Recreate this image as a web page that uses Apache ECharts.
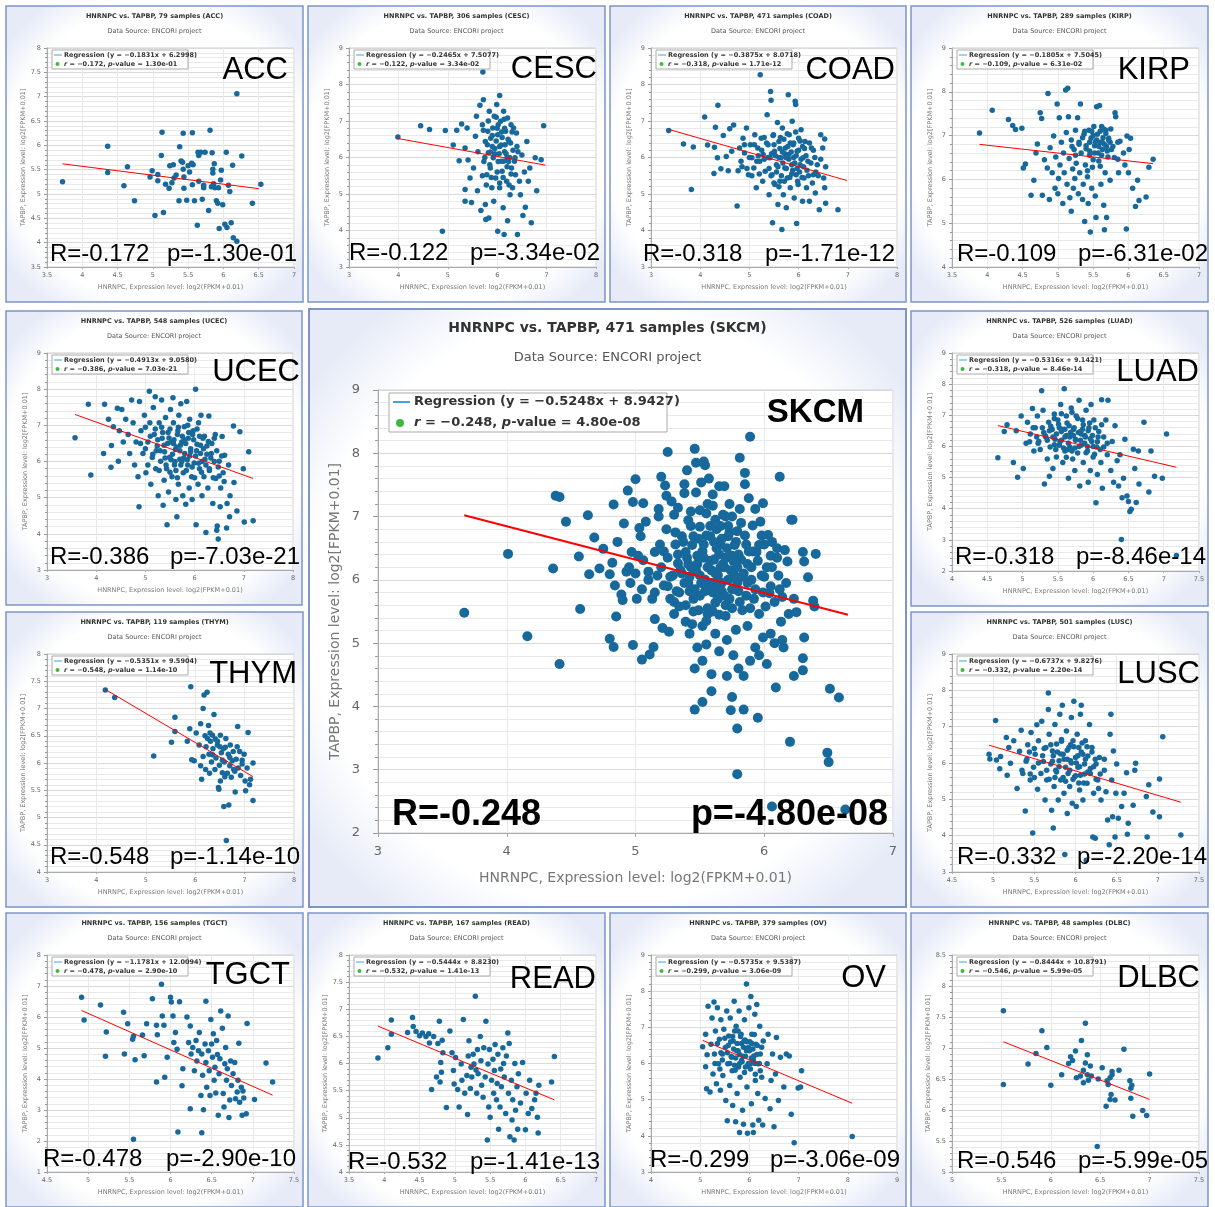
<!DOCTYPE html>
<html>
<head>
<meta charset="utf-8">
<title>HNRNPC vs. TAPBP</title>
<script src="https://cdn.jsdelivr.net/npm/echarts@6/dist/echarts.min.js"></script>
<style>html,body{margin:0;padding:0;background:#fff;}</style>
</head>
<body>
<div id="main" style="width:1215px;height:1207px;"></div>
<script type="text/javascript">
// ---- data ----
var cancers = ['ACC', 'CESC', 'COAD', 'KIRP', 'UCEC', 'SKCM', 'LUAD', 'THYM', 'LUSC', 'TGCT', 'READ', 'OV', 'DLBC'];
var samples = [79, 306, 471, 289, 548, 471, 526, 119, 501, 156, 167, 379, 48];
var equations = ['−0.1831x + 6.2998', '−0.2465x + 7.5077', '−0.3875x + 8.0718', '−0.1805x + 7.5045', '−0.4913x + 9.0580', '−0.5248x + 8.9427',
  '−0.5316x + 9.1421', '−0.5351x + 9.5904', '−0.6737x + 9.8276', '−1.1781x + 12.0094', '−0.5444x + 8.8230', '−0.5735x + 9.5387', '−0.8444x + 10.8791'];
var rValues = ['-0.172', '-0.122', '-0.318', '-0.109', '-0.386', '-0.248', '-0.318', '-0.548', '-0.332', '-0.478', '-0.532', '-0.299', '-0.546'];
var pValues = ['1.30e-01', '3.34e-02', '1.71e-12', '6.31e-02', '7.03e-21', '4.80e-08', '8.46e-14', '1.14e-10', '2.20e-14', '2.90e-10', '1.41e-13', '3.06e-09', '5.99e-05'];
// axis ticks: [min, max, interval]
var xTicks = [[3.5, 7, 0.5], [3, 8, 1], [3, 8, 1], [3.5, 7, 0.5], [3, 8, 1], [3, 7, 1], [4, 7.5, 0.5], [3, 8, 1], [4.5, 7.5, 0.5], [4.5, 7.5, 0.5], [3.5, 7, 0.5], [4, 9, 1], [5, 7.5, 0.5]];
var yTicks = [[3.5, 8, 0.5], [3, 9, 1], [3, 9, 1], [4, 9, 1], [3, 9, 1], [2, 9, 1], [2, 9, 1], [4, 8, 0.5], [3, 9, 1], [1, 8, 1], [4, 8, 0.5], [3, 9, 1], [5, 8.5, 0.5]];
var xName = 'HNRNPC, Expression level: log2(FPKM+0.01)';
var yName = 'TAPBP, Expression level: log2[FPKM+0.01]';

// regression line end points
var accFit = [[3.72, 5.62], [6.50, 5.11]];
var cescFit = [[3.99, 6.52], [6.98, 5.79]];
var coadFit = [[3.36, 6.77], [6.98, 5.37]];
var kirpFit = [[3.89, 6.80], [6.35, 6.36]];
var ucecFit = [[3.57, 7.30], [7.19, 5.53]];
var skcmFit = [[3.67, 7.02], [6.65, 5.45]];
var luadFit = [[4.65, 6.67], [7.18, 5.33]];
var thymFit = [[4.18, 7.35], [7.17, 5.75]];
var luscFit = [[4.95, 6.49], [7.28, 4.92]];
var tgctFit = [[4.92, 6.21], [7.24, 3.48]];
var readFit = [[3.91, 6.69], [6.41, 5.33]];
var ovFit = [[5.05, 6.64], [8.09, 4.90]];
var dlbcFit = [[5.52, 7.10], [7.00, 6.17]];

// samples [HNRNPC, TAPBP]
var accPts = [[3.72,5.25],[4.36,5.98],[4.36,5.44],[4.59,5.17],[4.64,5.56],[4.74,4.86],[4.96,5.35],[4.99,5.48],[5.03,4.56],[5.07,5.40],[5.07,5.27],[5.13,6.27],[5.12,5.79],[5.15,4.62],[5.18,5.20],[5.23,5.12],[5.24,5.58],[5.29,5.60],[5.27,5.23],[5.30,5.33],[5.33,5.39],[5.37,4.86],[5.38,5.97],[5.40,5.68],[5.42,5.65],[5.43,6.25],[5.43,5.51],[5.44,5.35],[5.44,5.12],[5.48,4.87],[5.50,5.58],[5.52,5.45],[5.55,5.63],[5.56,6.26],[5.56,5.19],[5.57,5.60],[5.59,4.86],[5.63,4.36],[5.64,5.86],[5.65,5.79],[5.65,5.26],[5.68,5.86],[5.70,4.89],[5.72,5.18],[5.72,5.13],[5.74,5.86],[5.79,4.66],[5.81,6.31],[5.84,5.85],[5.83,5.15],[5.85,5.51],[5.85,5.43],[5.87,5.62],[5.86,5.21],[5.88,5.13],[5.90,4.86],[5.92,4.81],[5.93,5.13],[5.94,4.29],[5.96,5.29],[5.97,5.49],[5.99,4.78],[6.02,4.38],[6.04,5.86],[6.05,4.31],[6.07,5.18],[6.09,5.05],[6.11,4.41],[6.13,5.59],[6.14,4.10],[6.19,7.06],[6.19,4.03],[6.26,5.78],[6.41,4.81],[6.53,5.20]];
var cescPts = [[3.99,6.56],[4.45,6.87],[4.63,6.77],[4.89,3.98],[4.95,6.74],[5.11,6.34],[5.18,6.75],[5.23,5.91],[5.28,6.92],[5.35,6.26],[5.35,5.12],[5.35,4.80],[5.39,6.81],[5.41,5.93],[5.45,5.44],[5.48,4.77],[5.52,5.71],[5.56,6.58],[5.58,7.13],[5.60,5.09],[5.61,6.16],[5.65,7.43],[5.67,4.55],[5.70,6.90],[5.71,8.34],[5.72,7.58],[5.73,5.89],[5.76,4.71],[5.76,6.44],[5.77,4.30],[5.79,5.53],[5.81,6.72],[5.82,6.13],[5.83,4.34],[5.84,7.27],[5.86,5.71],[5.87,6.53],[5.89,5.17],[5.91,6.81],[5.92,5.99],[5.93,4.80],[5.94,7.13],[5.95,6.25],[5.97,5.44],[5.99,7.45],[6.01,3.98],[6.01,6.62],[6.02,5.89],[6.05,7.70],[6.05,5.17],[6.07,6.99],[6.08,6.34],[6.10,5.62],[6.12,4.62],[6.13,7.27],[6.14,3.89],[6.15,6.16],[6.17,6.72],[6.19,5.35],[6.21,4.27],[6.21,7.08],[6.23,5.89],[6.24,6.44],[6.26,4.98],[6.28,6.90],[6.29,5.71],[6.31,5.17],[6.33,6.81],[6.36,5.99],[6.37,5.53],[6.39,6.67],[6.41,3.89],[6.42,6.16],[6.45,5.35],[6.47,4.98],[6.50,6.07],[6.52,4.41],[6.55,5.60],[6.57,4.64],[6.60,6.44],[6.63,5.35],[6.66,5.71],[6.69,4.21],[6.77,5.99],[6.80,5.09],[6.89,5.94],[6.94,6.87],
  [5.75,6.00],[5.80,6.35],[5.85,5.80],[5.90,6.60],[5.95,6.10],[6.00,5.60],[6.02,6.90],[6.05,6.30],[6.08,5.90],[6.10,6.55],[6.12,5.45],[6.15,6.80],[6.18,6.10],[6.20,5.75],[6.22,6.50],[6.25,6.00],[6.28,5.55],[6.30,6.70],[6.32,6.20],[6.35,5.90],[5.70,5.50],[5.72,6.75],[5.78,5.25],[5.82,7.00],[5.88,5.45],[5.98,7.10],[6.05,5.30],[6.14,7.05],[6.24,5.25],[6.40,6.30],
  [5.90,6.30],[5.98,6.45],[6.04,6.10],[6.09,6.70],[6.16,6.35],[6.20,6.00],[6.27,6.40],[5.86,6.15],[6.00,6.80],[6.13,5.90]];
var coadPts = [[3.36,6.74],[3.66,6.37],[3.82,5.12],[3.86,6.29],[4.09,7.11],[4.15,6.34],[4.28,5.56],[4.29,6.28],[4.31,6.83],[4.35,5.99],[4.36,7.43],[4.42,5.69],[4.47,6.60],[4.53,6.03],[4.57,5.64],[4.60,6.79],[4.64,6.17],[4.68,6.89],[4.75,4.67],[4.77,5.64],[4.80,6.26],[4.83,5.90],[4.87,6.53],[4.90,6.12],[4.94,6.81],[4.98,5.53],[5.02,6.35],[5.05,5.99],[5.09,5.71],[5.11,6.62],[5.14,5.17],[5.17,6.26],[5.21,5.90],[5.22,8.27],[5.24,6.53],[5.27,5.35],[5.28,6.08],[5.32,5.62],[5.36,7.17],[5.38,6.35],[5.40,4.98],[5.42,5.99],[5.43,7.81],[5.44,7.57],[5.46,5.53],[5.47,4.21],[5.49,6.62],[5.51,6.17],[5.52,5.26],[5.55,5.80],[5.57,6.96],[5.58,4.71],[5.60,6.44],[5.62,5.35],[5.64,5.99],[5.66,4.03],[5.67,6.81],[5.69,4.98],[5.72,5.71],[5.73,6.26],[5.75,4.62],[5.77,5.44],[5.79,7.72],[5.80,6.08],[5.81,6.62],[5.83,5.17],[5.86,5.80],[5.87,6.99],[5.89,6.35],[5.91,4.89],[5.93,7.54],[5.94,7.45],[5.95,5.53],[5.96,4.19],[5.97,6.17],[5.99,5.26],[6.00,6.53],[6.03,5.80],[6.05,6.76],[6.08,4.80],[6.09,5.99],[6.11,5.44],[6.13,6.44],[6.16,5.17],[6.19,5.90],[6.22,4.80],[6.26,6.26],[6.30,5.53],[6.34,5.03],[6.38,5.80],[6.42,4.57],[6.45,6.62],[6.49,6.26],[6.51,5.44],[6.53,5.17],[6.53,6.51],[6.55,4.75],[6.80,4.57],
  [5.25,6.20],[5.30,5.95],[5.35,6.40],[5.40,5.70],[5.45,6.10],[5.50,6.35],[5.55,5.60],[5.60,6.00],[5.62,6.25],[5.65,5.50],[5.68,5.85],[5.70,6.50],[5.72,6.10],[5.75,5.70],[5.78,6.30],[5.80,5.95],[5.82,5.45],[5.85,6.15],[5.88,5.65],[5.90,6.40],[5.92,5.85],[5.95,6.05],[5.98,5.35],[6.00,6.20],[6.02,5.60],[6.05,5.95],[6.08,6.30],[6.10,5.75],[6.15,6.05],[6.20,5.50],[6.25,5.85],[5.50,5.30],[5.60,5.20],[5.15,5.90],[5.10,6.35],[5.00,6.00],[4.95,5.70],[5.20,5.55],[6.30,6.20],[6.35,5.60],
  [5.30,6.55],[5.38,6.00],[5.44,5.50],[5.48,6.60],[5.53,6.05],[5.58,5.75],[5.63,6.55],[5.67,6.15],[5.71,5.35],[5.74,6.00],[5.77,6.65],[5.83,6.40],[5.86,5.55],[5.90,6.00],[5.94,6.70],[5.97,5.70],[6.03,6.45],[6.07,5.45],[6.12,6.25],[6.17,5.65],[6.22,6.40],[6.28,5.30],[6.33,6.00],[6.40,5.50],[5.18,6.05],[5.05,5.50],[4.90,6.35],[4.85,5.75],[6.45,5.95],[6.55,5.75]];
var kirpPts = [[3.89,7.06],[4.07,7.58],[4.30,7.37],[4.36,7.23],[4.40,7.14],[4.49,7.17],[4.51,6.26],[4.54,6.35],[4.62,5.64],[4.66,5.98],[4.69,6.60],[4.71,6.81],[4.75,7.52],[4.77,7.39],[4.78,5.64],[4.81,6.45],[4.85,6.26],[4.86,7.96],[4.88,5.54],[4.89,6.72],[4.92,6.15],[4.94,6.99],[4.96,5.80],[4.97,6.51],[4.99,7.72],[5.00,5.67],[5.01,6.02],[5.02,7.41],[5.03,6.33],[5.05,6.85],[5.07,5.45],[5.08,6.60],[5.09,6.15],[5.11,8.04],[5.12,7.07],[5.13,5.89],[5.14,8.08],[5.15,7.43],[5.16,6.48],[5.17,5.58],[5.19,6.90],[5.19,5.27],[5.21,6.24],[5.22,5.80],[5.23,6.68],[5.24,6.02],[5.25,7.12],[5.26,6.37],[5.28,7.41],[5.29,5.67],[5.30,6.85],[5.31,6.15],[5.32,7.72],[5.33,6.60],[5.35,5.54],[5.36,5.89],[5.37,7.03],[5.38,5.04],[5.39,6.33],[5.40,6.77],[5.42,6.06],[5.43,5.45],[5.44,7.12],[5.45,6.55],[5.46,4.80],[5.47,6.94],[5.48,5.80],[5.49,6.28],[5.51,7.21],[5.52,6.77],[5.53,5.62],[5.54,5.13],[5.55,7.66],[5.56,7.03],[5.58,6.42],[5.59,7.69],[5.60,6.85],[5.61,5.89],[5.62,7.21],[5.63,6.68],[5.65,5.41],[5.66,4.85],[5.67,6.15],[5.68,7.12],[5.69,5.13],[5.71,6.51],[5.72,6.94],[5.74,5.98],[5.76,6.68],[5.81,7.52],[5.82,7.43],[5.85,6.46],[5.86,6.15],[5.88,6.87],[5.93,6.60],[5.95,6.33],[5.97,4.87],[5.98,6.99],[6.00,6.15],[6.01,6.68],[6.03,6.94],[6.06,5.80],[6.10,5.38],[6.13,5.98],[6.15,5.52],[6.25,5.60],[6.29,6.28],[6.35,6.46],
  [5.30,6.80],[5.35,6.95],[5.40,6.70],[5.45,6.85],[5.50,7.00],[5.52,6.60],[5.55,6.90],[5.58,6.75],[5.60,7.10],[5.62,6.55],[5.64,6.95],[5.66,6.80],[5.68,7.05],[5.70,6.65],[5.72,6.90],[5.75,7.15],[5.78,6.75],[5.80,6.50],[5.50,6.45],[5.42,6.20],[5.25,6.55],[5.20,6.75],[5.60,6.30],[5.85,6.85],[5.38,7.10],
  [5.45,6.65],[5.53,6.85],[5.57,6.60],[5.63,6.85],[5.69,6.75],[5.74,6.85],[5.48,7.10],[5.65,7.15]];
var ucecPts = [[3.57,6.66],[3.84,7.58],[3.89,5.63],[4.15,6.22],[4.17,7.58],[4.25,7.17],[4.30,5.84],[4.31,6.44],[4.35,6.96],[4.43,7.47],[4.45,6.01],[4.47,6.85],[4.52,7.44],[4.55,6.54],[4.60,7.17],[4.65,6.75],[4.68,6.22],[4.72,7.70],[4.75,7.07],[4.78,5.90],[4.81,6.54],[4.85,5.58],[4.87,4.75],[4.88,7.66],[4.91,6.85],[4.95,6.22],[4.98,7.28],[5.01,5.69],[5.05,6.54],[5.08,7.94],[5.09,7.07],[5.11,5.37],[5.14,6.11],[5.16,7.49],[5.18,6.75],[5.20,7.79],[5.21,5.80],[5.24,6.43],[5.26,5.05],[5.28,7.07],[5.31,6.01],[5.33,7.70],[5.34,6.64],[5.36,4.79],[5.38,5.48],[5.39,6.27],[5.41,7.22],[5.43,5.80],[5.44,4.25],[5.46,6.80],[5.47,5.16],[5.49,6.11],[5.51,7.44],[5.53,6.54],[5.54,5.58],[5.56,7.76],[5.57,7.07],[5.59,5.90],[5.61,6.33],[5.62,4.95],[5.64,4.47],[5.65,6.75],[5.67,5.37],[5.68,7.28],[5.70,6.06],[5.72,7.60],[5.74,6.54],[5.76,5.05],[5.77,5.69],[5.79,6.96],[5.80,6.22],[5.82,4.82],[5.84,7.66],[5.86,5.90],[5.87,6.64],[5.89,5.27],[5.90,7.17],[5.92,6.27],[5.94,5.58],[5.95,4.95],[5.97,6.85],[5.99,5.96],[6.02,8.00],[6.03,4.25],[6.05,6.48],[6.07,5.37],[6.08,7.07],[6.10,5.80],[6.12,6.22],[6.13,7.28],[6.15,5.05],[6.17,6.64],[6.19,5.58],[6.21,6.06],[6.23,4.04],[6.25,6.43],[6.27,5.27],[6.29,7.26],[6.30,5.80],[6.34,6.22],[6.37,4.84],[6.40,6.64],[6.43,5.53],[6.45,4.10],[6.46,4.22],[6.48,3.86],[6.50,6.01],[6.52,4.75],[6.53,5.27],[6.56,6.69],[6.58,5.69],[6.61,6.17],[6.65,4.16],[6.66,4.84],[6.69,5.90],[6.71,4.47],[6.72,5.05],[6.79,6.98],[6.80,5.42],[6.86,4.63],[6.92,6.82],[6.99,5.80],[7.01,4.33],[7.10,6.27],[7.19,4.36],
  [5.25,6.60],[5.30,6.30],[5.35,6.80],[5.40,6.10],[5.45,6.50],[5.50,6.90],[5.55,6.20],[5.58,6.60],[5.60,6.00],[5.63,6.40],[5.66,6.85],[5.70,6.30],[5.72,5.90],[5.75,6.70],[5.78,6.10],[5.82,6.50],[5.85,6.05],[5.88,6.80],[5.92,6.35],[5.95,5.85],[5.98,6.60],[6.02,6.15],[6.05,6.90],[6.08,5.95],[6.12,6.45],[6.15,6.00],[6.20,6.70],[6.25,6.20],[6.30,5.75],[5.20,6.90],[5.15,6.20],[5.10,6.70],[5.05,5.90],[5.00,6.35],[6.35,6.50],[6.40,6.00],[6.45,6.30],[6.50,5.60],[5.50,5.70],[5.65,5.55],
  [5.22,6.30],[5.28,5.75],[5.33,6.95],[5.38,6.45],[5.42,5.90],[5.48,6.65],[5.52,6.05],[5.57,6.50],[5.62,5.75],[5.67,6.95],[5.71,6.45],[5.74,6.00],[5.79,6.60],[5.83,5.75],[5.86,7.00],[5.90,6.15],[5.96,6.75],[6.00,5.55],[6.04,6.30],[6.10,6.70],[6.14,5.70],[6.18,6.35],[6.23,5.90],[6.28,6.55],[6.33,6.10],[6.38,5.55],[6.42,6.75],[6.48,5.85],[5.00,6.95],[4.90,6.50],[6.55,6.15],[6.60,5.45]];
var skcmPts = [[3.67,5.48],[4.01,6.41],[4.16,5.11],[4.36,6.18],[4.38,7.33],[4.41,7.31],[4.41,4.67],[4.46,6.92],[4.56,6.37],[4.57,5.54],[4.63,7.02],[4.64,6.09],[4.68,6.67],[4.72,6.18],[4.75,6.49],[4.80,6.09],[4.80,5.07],[4.82,6.27],[4.83,7.19],[4.83,4.94],[4.84,5.91],[4.85,5.42],[4.86,6.60],[4.89,5.77],[4.90,5.68],[4.91,6.89],[4.93,6.13],[4.94,7.41],[4.96,5.95],[4.97,6.44],[4.98,4.97],[4.98,7.23],[5.00,7.59],[5.01,5.70],[5.02,6.38],[5.03,6.82],[5.04,6.69],[5.05,4.74],[5.06,7.21],[5.06,6.31],[5.08,6.92],[5.10,6.13],[5.11,4.82],[5.13,5.70],[5.14,4.94],[5.15,6.44],[5.15,5.38],[5.17,6.07],[5.18,7.12],[5.18,7.00],[5.19,6.56],[5.20,7.63],[5.21,5.24],[5.22,5.91],[5.23,7.49],[5.24,6.80],[5.24,7.33],[5.25,8.02],[5.25,6.35],[5.26,5.18],[5.27,5.70],[5.28,7.24],[5.29,6.07],[5.30,7.03],[5.30,5.46],[5.31,6.56],[5.32,5.82],[5.33,7.14],[5.33,6.26],[5.34,5.58],[5.36,6.69],[5.36,6.10],[5.38,7.51],[5.38,7.37],[5.39,6.44],[5.39,5.34],[5.40,7.73],[5.41,6.94],[5.41,5.95],[5.42,5.15],[5.42,5.82],[5.43,7.08],[5.43,6.20],[5.45,6.69],[5.45,5.70],[5.46,4.60],[5.46,3.95],[5.46,8.07],[5.47,7.85],[5.47,7.38],[5.48,6.38],[5.48,4.93],[5.49,5.52],[5.50,6.84],[5.50,6.07],[5.51,7.54],[5.52,5.27],[5.52,4.07],[5.52,4.72],[5.53,7.87],[5.53,6.56],[5.54,5.82],[5.54,7.81],[5.55,7.05],[5.55,4.98],[5.56,6.20],[5.56,5.46],[5.57,7.60],[5.58,6.69],[5.58,5.95],[5.59,4.24],[5.59,4.51],[5.60,7.17],[5.61,6.32],[5.62,5.64],[5.62,5.15],[5.63,6.80],[5.64,6.07],[5.65,4.87],[5.65,7.48],[5.66,6.56],[5.67,5.82],[5.68,7.03],[5.69,7.48],[5.69,6.20],[5.70,5.43],[5.71,4.48],[5.71,5.05],[5.72,6.69],[5.73,5.70],[5.74,3.94],[5.75,4.15],[5.75,7.00],[5.75,6.38],[5.76,4.81],[5.77,6.07],[5.78,5.21],[5.79,6.77],[5.79,2.93],[5.79,3.65],[5.80,5.82],[5.80,4.60],[5.81,7.12],[5.81,7.93],[5.82,6.32],[5.83,5.52],[5.84,4.48],[5.84,3.95],[5.85,7.69],[5.85,7.51],[5.86,6.56],[5.87,5.95],[5.87,5.27],[5.88,7.29],[5.89,4.72],[5.89,8.26],[5.90,6.20],[5.91,6.86],[5.92,5.70],[5.93,4.93],[5.93,7.12],[5.94,6.44],[5.95,3.82],[5.96,5.46],[5.96,4.81],[5.97,6.92],[5.98,6.07],[5.99,7.21],[5.99,5.09],[6.00,6.56],[6.01,5.58],[6.02,4.67],[6.03,6.71],[6.04,5.79],[6.05,6.38],[6.05,5.15],[6.06,6.20],[6.08,5.00],[6.09,4.30],[6.10,6.35],[6.11,6.07],[6.12,7.63],[6.13,5.34],[6.14,5.73],[6.14,5.05],[6.15,4.93],[6.16,6.47],[6.17,5.95],[6.18,6.29],[6.19,5.46],[6.20,3.44],[6.21,6.95],[6.22,6.95],[6.23,4.48],[6.23,5.70],[6.25,5.49],[6.30,6.44],[6.31,5.09],[6.30,4.76],[6.30,4.57],[6.31,6.29],[6.34,6.04],[6.38,5.67],[6.39,5.58],[6.40,6.41],[6.51,4.28],[6.49,3.27],[6.50,3.12],[6.58,4.14],[6.63,2.37],[6.06,2.42],
  [5.35,6.15],[5.38,5.95],[5.40,6.35],[5.42,6.05],[5.44,6.55],[5.46,5.85],[5.48,6.25],[5.50,5.75],[5.52,6.45],[5.54,6.00],[5.55,6.70],[5.57,5.90],[5.58,6.30],[5.60,5.80],[5.61,6.60],[5.62,6.10],[5.64,5.70],[5.65,6.40],[5.66,6.85],[5.67,5.95],[5.68,6.25],[5.70,5.60],[5.71,6.50],[5.72,6.00],[5.73,6.75],[5.75,5.85],[5.76,6.30],[5.78,6.60],[5.79,5.95],[5.80,6.40],[5.82,6.90],[5.84,6.10],[5.86,5.75],[5.88,6.45],[5.90,6.00],[5.30,5.65],[5.33,6.40],[5.25,5.90],[5.20,6.20],[5.15,5.80],[5.10,6.00],[5.05,5.85],[5.00,6.10],[4.95,6.20],[5.60,5.50],[5.55,5.35],[5.65,5.45],[5.70,7.00],[5.62,6.95],[5.95,6.30],[6.00,6.05],[6.05,5.90],[6.10,6.50],[5.98,6.70],[6.12,5.85],
  [5.22,6.45],[5.27,6.05],[5.31,6.75],[5.34,5.80],[5.37,6.60],[5.39,5.60],[5.41,6.25],[5.43,6.85],[5.45,5.50],[5.47,6.15],[5.49,6.65],[5.51,5.95],[5.53,6.35],[5.56,5.55],[5.58,6.85],[5.59,6.15],[5.61,5.95],[5.63,6.50],[5.64,5.90],[5.66,6.20],[5.67,6.65],[5.69,5.75],[5.70,6.35],[5.72,6.85],[5.74,6.15],[5.75,5.55],[5.77,6.55],[5.79,6.20],[5.81,5.65],[5.83,6.05],[5.85,6.70],[5.87,6.25],[5.89,5.55],[5.91,6.45],[5.93,5.85],[5.96,6.55],[5.99,5.80],[6.02,6.20],[6.06,6.60],[6.08,5.65],[5.56,7.20],[5.60,7.35],[5.73,7.20],[5.50,7.10],[5.44,5.30]];
var luadPts = [[4.65,5.64],[4.74,6.48],[4.78,6.70],[4.87,5.48],[4.91,6.50],[4.93,5.01],[4.98,6.98],[5.01,5.29],[5.05,6.10],[5.07,6.78],[5.11,6.40],[5.14,7.22],[5.16,5.85],[5.18,6.60],[5.21,6.98],[5.23,6.16],[5.27,7.79],[5.29,7.16],[5.31,4.79],[5.32,6.34],[5.35,5.60],[5.37,6.78],[5.38,5.04],[5.39,5.98],[5.42,6.54],[5.43,5.29],[5.45,7.04],[5.46,6.23],[5.48,5.66],[5.51,6.71],[5.52,6.04],[5.54,7.35],[5.55,6.48],[5.57,5.48],[5.59,7.85],[5.60,5.85],[5.62,6.98],[5.62,6.35],[5.65,4.98],[5.66,6.66],[5.67,5.98],[5.69,7.23],[5.71,5.60],[5.72,6.54],[5.74,5.23],[5.75,6.23],[5.76,6.98],[5.78,5.79],[5.80,7.48],[5.81,4.73],[5.82,6.48],[5.83,6.04],[5.85,6.85],[5.86,5.48],[5.88,6.35],[5.90,7.16],[5.92,5.85],[5.93,4.85],[5.94,6.60],[5.96,5.23],[5.97,7.35],[5.98,6.16],[6.00,5.66],[6.01,6.85],[6.04,4.19],[6.05,5.98],[6.06,5.10],[6.08,6.48],[6.11,5.48],[6.12,7.50],[6.13,4.66],[6.15,5.98],[6.18,6.85],[6.20,5.73],[6.21,7.48],[6.25,5.23],[6.27,6.16],[6.29,4.85],[6.31,6.66],[6.34,5.54],[6.36,4.73],[6.38,5.73],[6.40,3.01],[6.41,4.35],[6.43,4.98],[6.45,6.23],[6.48,4.41],[6.50,4.23],[6.52,3.91],[6.54,3.98],[6.57,5.91],[6.59,5.29],[6.61,4.20],[6.64,5.85],[6.65,4.79],[6.72,6.78],[6.79,4.54],[6.82,5.85],[6.87,5.04],[6.98,4.98],[7.04,6.40],[7.18,2.50],
  [5.30,6.45],[5.35,6.20],[5.40,6.65],[5.45,6.05],[5.48,6.40],[5.50,6.85],[5.53,6.15],[5.56,6.55],[5.58,5.95],[5.60,6.30],[5.63,6.75],[5.65,6.10],[5.68,6.45],[5.70,5.85],[5.73,6.60],[5.75,6.20],[5.78,6.90],[5.80,6.00],[5.83,6.40],[5.86,6.70],[5.88,6.10],[5.90,5.80],[5.93,6.50],[5.96,6.25],[6.00,6.00],[6.03,6.60],[6.07,6.30],[6.10,5.90],[5.20,6.30],[5.25,5.90],[5.15,6.60],[5.10,6.15],[6.15,6.30],[6.20,6.10],[5.55,7.05],[5.70,7.10],
  [5.33,6.30],[5.38,6.50],[5.43,6.30],[5.47,5.90],[5.52,6.60],[5.55,6.20],[5.60,6.55],[5.64,5.90],[5.67,6.30],[5.72,6.35],[5.74,5.95],[5.79,6.45],[5.82,6.20],[5.85,6.55],[5.89,6.30],[5.92,6.00],[5.95,6.75],[5.99,6.35],[6.02,5.75],[6.06,6.15],[5.45,6.90],[5.62,5.65],[5.28,6.60],[5.22,6.10],[6.12,6.70]];
var thymPts = [[4.18,7.34],[4.37,7.20],[5.16,6.13],[5.52,6.38],[5.59,6.84],[5.59,6.58],[5.84,6.40],[5.89,6.63],[5.91,7.40],[5.93,6.06],[5.98,6.04],[6.02,6.55],[6.08,6.33],[6.11,5.95],[6.11,6.72],[6.13,5.70],[6.16,7.00],[6.16,6.12],[6.18,7.25],[6.20,6.50],[6.21,5.88],[6.22,6.30],[6.24,7.30],[6.27,6.69],[6.28,6.16],[6.29,5.81],[6.31,6.40],[6.33,6.02],[6.35,6.51],[6.36,6.26],[6.38,6.89],[6.40,5.88],[6.41,6.44],[6.42,6.09],[6.45,6.33],[6.47,5.55],[6.48,5.52],[6.49,5.96],[6.51,6.51],[6.51,5.67],[6.53,6.19],[6.55,5.82],[6.57,6.26],[6.58,5.20],[6.59,6.02],[6.61,6.29],[6.63,4.58],[6.65,5.81],[6.67,6.16],[6.68,5.23],[6.70,5.95],[6.71,6.33],[6.73,5.74],[6.75,6.04],[6.77,6.21],[6.78,5.88],[6.81,5.47],[6.83,6.07],[6.86,6.67],[6.87,5.91],[6.90,6.21],[6.92,5.77],[6.95,5.98],[6.99,6.16],[7.01,5.67],[7.02,5.49],[7.05,5.91],[7.07,6.56],[7.10,5.60],[7.12,5.70],[7.17,6.00],[7.17,5.31],
  [6.25,6.45],[6.35,6.15],[6.45,6.40],[6.55,6.05],[6.62,6.45],[6.70,6.10],[6.80,5.85],[6.85,6.30],[6.95,6.05],[6.60,5.75],[6.50,6.30],[6.30,6.55]];
var luscPts = [[4.95,6.24],[4.96,6.11],[5.03,7.17],[5.04,6.08],[5.08,5.84],[5.09,6.18],[5.16,6.70],[5.17,5.66],[5.19,6.43],[5.21,5.99],[5.25,6.61],[5.29,5.30],[5.32,6.32],[5.34,6.90],[5.36,5.71],[5.39,4.68],[5.41,6.11],[5.42,6.50],[5.45,5.53],[5.46,6.84],[5.48,4.07],[5.49,5.88],[5.51,6.24],[5.53,7.05],[5.54,5.28],[5.55,6.61],[5.58,5.71],[5.59,7.15],[5.61,6.04],[5.63,4.98],[5.64,6.43],[5.65,5.53],[5.67,7.93],[5.67,7.47],[5.68,6.79],[5.70,5.97],[5.71,4.70],[5.72,6.33],[5.73,4.21],[5.74,5.35],[5.75,7.06],[5.76,5.80],[5.77,6.52],[5.79,4.98],[5.80,6.06],[5.81,7.34],[5.82,5.53],[5.83,6.65],[5.84,7.59],[5.85,6.24],[5.86,5.17],[5.87,3.48],[5.88,5.88],[5.89,6.88],[5.90,4.61],[5.91,5.71],[5.92,6.43],[5.93,5.35],[5.94,6.06],[5.95,7.25],[5.96,4.89],[5.97,6.61],[5.98,7.70],[5.99,5.62],[6.00,6.15],[6.01,4.80],[6.02,6.79],[6.03,5.88],[6.04,6.43],[6.05,5.26],[6.06,7.34],[6.06,5.66],[6.07,7.59],[6.09,6.24],[6.09,4.98],[6.11,5.97],[6.12,6.61],[6.13,3.32],[6.14,5.44],[6.15,6.19],[6.17,7.06],[6.18,5.71],[6.20,6.43],[6.21,3.96],[6.22,5.17],[6.24,3.93],[6.25,5.97],[6.27,5.53],[6.29,6.15],[6.31,4.98],[6.35,5.80],[6.37,5.21],[6.39,4.43],[6.41,3.75],[6.42,6.79],[6.43,7.34],[6.44,5.53],[6.45,4.52],[6.46,6.33],[6.48,3.96],[6.49,5.17],[6.50,5.97],[6.52,4.48],[6.56,4.80],[6.59,5.17],[6.62,5.73],[6.63,4.04],[6.64,4.34],[6.70,4.84],[6.72,5.80],[6.73,5.99],[6.86,5.08],[6.87,3.96],[6.89,5.40],[6.94,4.65],[7.02,5.56],[7.02,4.52],[7.06,6.72],[7.28,4.02],
  [5.60,6.20],[5.65,5.80],[5.70,6.50],[5.72,6.05],[5.75,5.60],[5.78,6.30],[5.80,5.90],[5.83,6.60],[5.86,6.10],[5.88,5.50],[5.90,6.35],[5.93,5.80],[5.95,6.00],[5.98,6.45],[6.00,5.65],[6.03,6.20],[6.05,5.90],[6.08,6.55],[6.10,5.45],[6.12,6.10],[6.15,5.75],[6.20,6.30],[6.22,5.90],[6.25,5.55],[5.50,6.40],[5.45,5.70],[5.40,6.05],[5.35,5.80],[6.30,5.70],[6.35,6.10],
  [5.62,6.40],[5.68,5.55],[5.73,6.20],[5.77,5.75],[5.82,6.25],[5.85,5.60],[5.90,6.10],[5.94,6.50],[5.97,5.55],[6.01,6.00],[6.04,5.45],[6.07,6.30],[6.11,5.70],[6.14,6.45],[6.18,5.85],[6.24,6.10],[6.28,5.30],[5.55,6.00],[5.50,5.60],[5.44,6.30]];
var tgctPts = [[4.92,6.64],[4.95,5.90],[5.15,6.39],[5.21,4.73],[5.22,5.52],[5.43,6.15],[5.44,4.81],[5.48,5.78],[5.54,5.28],[5.55,5.38],[5.55,2.06],[5.57,4.62],[5.66,5.42],[5.68,4.75],[5.71,5.78],[5.78,6.59],[5.83,5.73],[5.83,3.90],[5.84,5.43],[5.89,7.06],[5.90,6.03],[5.92,5.73],[5.93,4.06],[5.96,4.70],[6.00,6.64],[6.01,6.48],[6.03,6.03],[6.04,5.18],[6.06,5.50],[6.08,4.96],[6.09,2.29],[6.11,6.49],[6.14,3.78],[6.15,4.33],[6.20,6.00],[6.22,5.18],[6.24,5.71],[6.24,3.04],[6.25,4.81],[6.27,5.02],[6.29,4.27],[6.31,5.24],[6.32,4.58],[6.34,4.91],[6.35,5.50],[6.37,3.47],[6.38,2.27],[6.38,4.81],[6.39,4.12],[6.40,3.01],[6.42,5.13],[6.43,6.51],[6.43,4.53],[6.44,3.73],[6.46,4.91],[6.47,4.27],[6.48,3.47],[6.49,5.92],[6.50,5.13],[6.51,4.70],[6.52,5.46],[6.53,3.96],[6.54,4.38],[6.55,3.55],[6.56,5.24],[6.57,4.79],[6.58,2.83],[6.59,4.17],[6.60,4.65],[6.61,6.19],[6.63,5.64],[6.64,3.53],[6.65,3.10],[6.66,4.49],[6.67,5.02],[6.68,3.96],[6.69,4.33],[6.70,6.03],[6.71,2.76],[6.72,3.32],[6.73,4.58],[6.74,3.79],[6.76,4.17],[6.78,4.53],[6.79,3.36],[6.81,3.58],[6.82,3.96],[6.83,5.15],[6.84,3.25],[6.86,3.73],[6.87,2.83],[6.88,3.61],[6.89,3.39],[6.92,2.88],[6.93,5.79],[7.02,3.34],[7.16,4.52],[7.24,3.90]];
var readPts = [[3.91,6.10],[4.05,6.29],[4.10,6.80],[4.10,6.54],[4.33,6.57],[4.40,6.85],[4.41,6.68],[4.45,6.59],[4.50,6.51],[4.54,6.56],[4.59,6.50],[4.63,6.55],[4.64,6.38],[4.67,5.52],[4.70,6.50],[4.74,5.75],[4.76,6.37],[4.78,6.78],[4.79,5.66],[4.80,6.02],[4.81,5.84],[4.82,6.43],[4.83,6.20],[4.88,5.19],[4.93,6.60],[4.96,6.20],[4.98,5.87],[4.99,5.62],[5.01,6.11],[5.04,5.52],[5.06,5.20],[5.09,5.99],[5.10,5.69],[5.12,6.81],[5.14,5.45],[5.17,5.78],[5.18,5.06],[5.19,6.14],[5.20,6.42],[5.22,5.54],[5.23,5.93],[5.24,5.75],[5.26,6.17],[5.27,5.99],[5.29,7.24],[5.30,5.88],[5.31,5.45],[5.32,6.26],[5.33,5.81],[5.36,6.50],[5.37,6.05],[5.38,5.60],[5.40,5.38],[5.41,6.29],[5.43,5.75],[5.44,6.78],[5.46,4.59],[5.47,5.99],[5.48,5.20],[5.49,6.26],[5.50,5.01],[5.52,5.69],[5.54,6.08],[5.55,5.45],[5.56,5.87],[5.57,6.35],[5.59,5.33],[5.60,5.63],[5.61,6.17],[5.62,4.79],[5.64,5.20],[5.65,5.90],[5.66,5.57],[5.68,6.29],[5.69,6.00],[5.70,5.75],[5.72,5.08],[5.73,6.14],[5.75,6.56],[5.76,5.45],[5.77,6.37],[5.78,4.65],[5.80,5.69],[5.81,4.96],[5.82,5.33],[5.84,4.59],[5.85,6.00],[5.86,5.14],[5.88,5.57],[5.89,4.79],[5.90,5.81],[5.93,5.27],[5.96,6.02],[6.00,4.78],[6.01,5.45],[6.04,5.08],[6.06,5.69],[6.09,5.17],[6.13,5.33],[6.15,5.45],[6.17,5.01],[6.18,4.72],[6.19,5.60],[6.41,6.13],[6.37,5.66]];
var ovPts = [[5.05,6.46],[5.11,6.81],[5.11,5.91],[5.13,5.30],[5.14,6.24],[5.16,7.58],[5.20,5.21],[5.22,6.53],[5.24,7.26],[5.26,5.71],[5.28,7.70],[5.29,6.26],[5.31,6.90],[5.33,5.44],[5.35,7.54],[5.37,5.99],[5.39,6.67],[5.41,5.26],[5.42,7.21],[5.45,6.26],[5.46,5.67],[5.48,6.95],[5.51,6.44],[5.52,4.98],[5.54,7.45],[5.55,4.42],[5.56,5.99],[5.58,6.76],[5.60,5.39],[5.61,7.26],[5.64,6.17],[5.66,4.84],[5.67,6.62],[5.69,7.72],[5.71,5.81],[5.72,4.39],[5.73,7.03],[5.75,5.17],[5.77,6.35],[5.79,7.45],[5.80,4.09],[5.81,5.62],[5.83,6.81],[5.84,6.08],[5.86,4.71],[5.88,4.32],[5.89,6.62],[5.90,7.21],[5.92,5.90],[5.94,8.20],[5.95,5.35],[5.96,4.07],[5.98,6.44],[5.99,7.54],[6.02,5.99],[6.03,7.85],[6.04,4.89],[6.05,6.81],[6.07,4.30],[6.08,4.09],[6.09,6.21],[6.11,7.36],[6.12,5.53],[6.13,6.53],[6.15,7.63],[6.17,5.17],[6.18,5.99],[6.19,4.43],[6.21,7.03],[6.22,6.26],[6.25,5.62],[6.27,4.30],[6.28,6.62],[6.32,5.03],[6.36,5.99],[6.38,6.81],[6.42,4.75],[6.44,5.53],[6.47,6.26],[6.50,4.25],[6.53,5.71],[6.55,6.72],[6.59,4.98],[6.63,6.17],[6.70,5.35],[6.75,6.26],[6.81,6.21],[6.85,4.60],[6.91,3.81],[6.99,5.32],[7.04,5.35],[7.06,5.80],[8.09,3.98],
  [5.55,6.30],[5.60,6.00],[5.62,6.60],[5.65,5.80],[5.68,6.40],[5.70,6.90],[5.72,6.15],[5.75,6.55],[5.78,5.90],[5.80,6.25],[5.82,6.75],[5.85,6.05],[5.88,6.45],[5.90,5.75],[5.92,6.20],[5.95,6.60],[5.98,6.00],[6.00,6.35],[6.02,5.85],[6.05,6.55],[6.08,6.10],[6.10,6.80],[6.12,5.70],[6.15,6.25],[6.20,6.00],[6.25,6.45],[5.45,6.10],[5.40,5.85],[5.35,6.55],[5.30,6.00],
  [5.57,6.50],[5.63,6.20],[5.66,6.75],[5.70,5.95],[5.74,6.35],[5.77,6.90],[5.80,6.00],[5.84,6.55],[5.87,6.20],[5.91,6.65],[5.94,6.35],[5.97,5.95],[6.01,6.60],[6.04,6.15],[6.07,6.40],[6.11,6.00],[6.16,6.50],[6.22,5.80],[5.50,6.70],[5.42,6.30]];
var dlbcPts = [[5.52,7.60],[5.52,6.41],[5.77,6.74],[5.85,6.91],[5.91,7.28],[5.96,7.01],[6.00,6.40],[6.11,6.57],[6.18,6.75],[6.20,6.86],[6.22,6.80],[6.25,6.95],[6.26,6.52],[6.30,6.55],[6.31,7.12],[6.33,6.64],[6.33,6.44],[6.35,7.40],[6.35,6.76],[6.37,6.89],[6.37,6.57],[6.38,6.48],[6.40,6.71],[6.41,6.55],[6.47,5.41],[6.52,6.68],[6.56,6.06],[6.57,6.47],[6.58,6.41],[6.60,6.17],[6.60,6.52],[6.61,6.25],[6.62,6.57],[6.65,6.16],[6.69,6.64],[6.74,6.98],[6.80,6.47],[6.81,6.35],[6.81,6.19],[6.83,5.90],[6.93,5.99],[6.97,5.91],[7.00,6.58],[6.62,6.62],[6.48,6.50],[6.82,6.40]];

var points = [accPts, cescPts, coadPts, kirpPts, ucecPts, skcmPts, luadPts, thymPts, luscPts, tgctPts, readPts, ovPts, dlbcPts];
var fits = [accFit, cescFit, coadFit, kirpFit, ucecFit, skcmFit, luadFit, thymFit, luscFit, tgctFit, readFit, ovFit, dlbcFit];

// ---- layout ----
// panel box [left, top, width, height]
var boxes = [[6,6,297,296],[308,6,297,296],[610,6,296,296],[911,6,297,296],
  [6,311,296,294],[309,309,597,598],[911,311,297,295],
  [6,612,297,295],[911,612,297,295],
  [6,913,297,294],[308,913,297,294],[610,913,296,294],[911,913,297,294]];
// big cancer name: [right x, centre y]
var namePos = [[288,70],[597,69],[895,70],[1190,70],[300,372],[864,413],[1199,372],[297,674],[1200,674],[290,975],[596,979],[886,978],[1200,978]];
// R text [left x, centre y], p text right x
var statPos = [[50,254,297],[349,253,600],[643,254,895],[957,254,1208],[50,557,300],[392,815,888],[955,557,1206],[50,857,300],[957,857,1207],[43,1159,296],[348,1162,600],[650,1160,900],[957,1161,1208]];

var FONT = '"DejaVu Sans", sans-serif';
var ARIAL = '"Liberation Sans", Arial, sans-serif';
var DOT = '#17699b';

var chart = echarts.init(document.getElementById('main'));
var grids = [], xAxes = [], yAxes = [], series = [], graphics = [];

function txt(x, y, text, font, fill, align, rich) {
  var st = { text: text, font: font, fill: fill, align: align || 'left', verticalAlign: 'middle' };
  if (rich) st.rich = rich;
  return { type: 'text', x: x, y: y, z: 100, silent: true, style: st };
}

cancers.forEach(function (name, i) {
  var b = boxes[i];
  var big = (name === 'SKCM');
  var gl = b[0] + (big ? 69 : 41), gt = b[1] + (big ? 81 : 42);
  var gw = b[2] - (big ? 82 : 50), gh = b[3] - (big ? 155 : 77);

  // panel frame with a faint blue vignette
  graphics.push({
    type: 'rect', z: -10, silent: true,
    shape: { x: b[0], y: b[1], width: b[2], height: b[3] },
    style: {
      fill: new echarts.graphic.RadialGradient(0.5, 0.5, 0.62, [
        { offset: 0, color: '#ffffff' }, { offset: 0.8, color: '#ffffff' }, { offset: 1, color: '#e6ebf7' }]),
      stroke: '#7d95c6', lineWidth: big ? 2 : 1.5
    }
  });

  grids.push({ left: gl, top: gt, width: gw, height: gh, show: true, backgroundColor: '#fff', borderColor: '#cfcfcf', borderWidth: 1 });

  var xt = xTicks[i], yt = yTicks[i];
  xAxes.push({
    gridIndex: i, type: 'value', min: xt[0], max: xt[1], interval: xt[2],
    name: xName, nameLocation: 'middle', nameGap: big ? 38 : 17,
    nameTextStyle: { color: '#777', fontSize: big ? 14 : 6.5, fontFamily: FONT },
    axisLine: { show: true, onZero: false, lineStyle: { color: '#aaa' } },
    axisTick: { show: true, length: big ? 4 : 2, lineStyle: { color: '#aaa' } },
    axisLabel: { color: '#666', fontSize: big ? 13 : 6.5, fontFamily: FONT, margin: big ? 12 : 5, showMinLabel: true, showMaxLabel: true, hideOverlap: false },
    splitLine: { show: true, lineStyle: { color: '#e9e9e9', width: 1 } }
  });
  yAxes.push({
    gridIndex: i, type: 'value', min: yt[0], max: yt[1], interval: yt[2],
    name: yName, nameLocation: 'middle', nameGap: big ? 36 : 18,
    nameTextStyle: { color: '#777', fontSize: big ? 14 : 6.5, fontFamily: FONT },
    axisLine: { show: true, onZero: false, lineStyle: { color: '#aaa' } },
    axisTick: { show: true, length: big ? 5 : 3, lineStyle: { color: '#999' } },
    minorTick: { show: true, splitNumber: 5, length: big ? 3 : 2, lineStyle: { color: '#999' } },
    axisLabel: { color: '#666', fontSize: big ? 13 : 6.5, fontFamily: FONT, margin: big ? 18 : 6, showMinLabel: true, showMaxLabel: true, hideOverlap: false },
    splitLine: { show: true, lineStyle: { color: '#d9d9d9' } },
    minorSplitLine: { show: true, lineStyle: { color: '#e9e9e9' } }
  });

  series.push({
    type: 'scatter', xAxisIndex: i, yAxisIndex: i, data: points[i],
    symbol: 'circle', symbolSize: big ? 10 : 5.5, silent: true,
    itemStyle: { color: DOT, opacity: 1 }
  });
  series.push({
    type: 'line', xAxisIndex: i, yAxisIndex: i, data: fits[i],
    symbol: 'none', silent: true, z: 5,
    lineStyle: { color: '#ff0000', width: big ? 2 : 1 }
  });

  // titles
  var cx = b[0] + b[2] / 2;
  graphics.push(txt(cx, b[1] + (big ? 19 : 10), 'HNRNPC vs. TAPBP, ' + samples[i] + ' samples (' + name + ')',
    'bold ' + (big ? 14 : 6.5) + 'px ' + FONT, '#333', 'center'));
  graphics.push(txt(cx, b[1] + (big ? 49 : 25), 'Data Source: ENCORI project',
    (big ? 13 : 6.5) + 'px ' + FONT, '#555', 'center'));

  // legend box inside the plot
  var lx = gl + (big ? 11 : 5), ly = gt + (big ? 3 : 2);
  var l1 = ly + (big ? 9 : 5), l2 = ly + (big ? 30 : 14);
  graphics.push({
    type: 'rect', z: 90, silent: true,
    shape: { x: lx, y: ly, width: big ? 278 : 136, height: big ? 39 : 19 },
    style: { fill: '#fff', stroke: '#aaa', lineWidth: 1 }
  });
  graphics.push({
    type: 'line', z: 95, silent: true,
    shape: { x1: lx + (big ? 4 : 2), y1: l1, x2: lx + (big ? 21 : 10), y2: l1 },
    style: { stroke: '#3da5e0', lineWidth: big ? 2 : 1 }
  });
  graphics.push({
    type: 'circle', z: 95, silent: true,
    shape: { cx: lx + (big ? 11 : 5.5), cy: l2, r: big ? 4 : 2 },
    style: { fill: '#3fb83f' }
  });
  var lf = (big ? 13 : 6.5);
  graphics.push(txt(lx + (big ? 25 : 12), l1, 'Regression (y = ' + equations[i] + ')',
    'bold ' + lf + 'px ' + FONT, '#333'));
  graphics.push(txt(lx + (big ? 25 : 12), l2, '{i|r} = ' + rValues[i].replace('-', '−') + ', {i|p}-value = ' + pValues[i],
    'bold ' + lf + 'px ' + FONT, '#333', 'left',
    { i: { font: 'italic bold ' + lf + 'px ' + FONT, fill: '#333' } }));

  // big annotations
  var np = namePos[i], sp = statPos[i];
  graphics.push(txt(np[0], np[1], name, (big ? 'bold 33px ' : '31px ') + ARIAL, '#000', 'right'));
  graphics.push(txt(sp[0], sp[1], 'R=' + rValues[i], (big ? 'bold 36px ' : '24px ') + ARIAL, '#000', 'left'));
  graphics.push(txt(sp[2], sp[1], 'p=-' + pValues[i], (big ? 'bold 36px ' : '24px ') + ARIAL, '#000', 'right'));
});

var option = {
  animation: false,
  backgroundColor: '#fff',
  grid: grids,
  xAxis: xAxes,
  yAxis: yAxes,
  series: series,
  graphic: graphics
};
chart.setOption(option);
</script>
</body>
</html>
